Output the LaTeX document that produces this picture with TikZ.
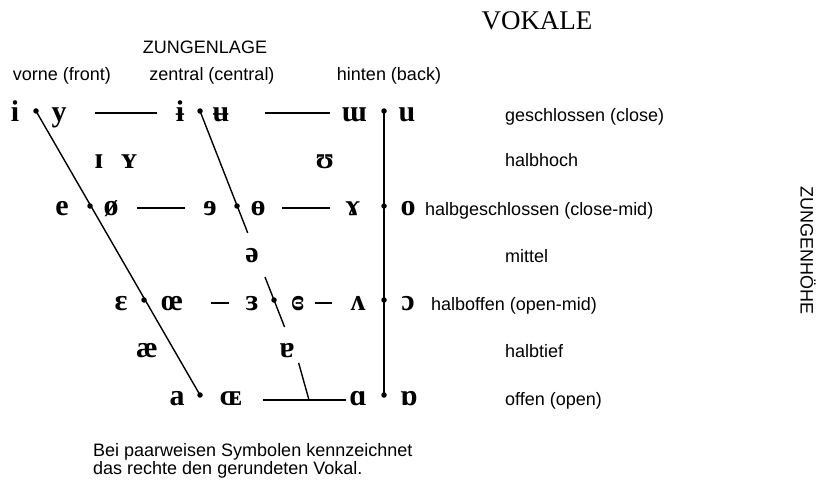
\documentclass[tikz,border=0pt]{standalone}
\usepackage{fontspec}
\setmainfont{Liberation Sans}
\newfontfamily\ipafont{Liberation Serif}
\newfontfamily\titlefont{Liberation Serif}
\usetikzlibrary{calc}
\begin{document}
\begin{tikzpicture}[x=1pt,y=-1pt,
  lab/.style={anchor=base west, inner sep=0pt, font=\fontsize{18}{16}\selectfont},
  head/.style={anchor=base, inner sep=0pt, font=\fontsize{18}{16}\selectfont},
  ipa/.style={anchor=base, inner sep=0pt, font=\ipafont\bfseries\fontsize{30}{30}\selectfont},
  vdot/.style={circle, fill, inner sep=0pt, minimum size=5.5pt},
  ln/.style={line width=1.4pt}]
\useasboundingbox (0,0) rectangle (819,484);

% titles
\node[anchor=base, inner sep=0pt, font=\titlefont\fontsize{27}{27}\selectfont] (title) at (537,30) {VOKALE};
\node[head] (zl) at (205,54) {ZUNGENLAGE};
\node[head] (hf) at (62,81) {vorne (front)};
\node[head] (hc) at (212,81) {zentral (central)};
\node[head] (hb) at (389,81) {hinten (back)};
\node[rotate=-90, inner sep=0pt, font=\fontsize{18}{16}\selectfont] (zh) at (808,251) {ZUNGENHÖHE};

% row 1
\node[ipa] (v11) at (15,122) {i};
\node[ipa] (v12) at (59,122) {y};
\node[ipa] (v13) at (180,122) {ɨ};
\node[ipa] (v14) at (221,122) {ʉ};
\node[ipa] (v15) at (354,122) {ɯ};
\node[ipa] (v16) at (407,122) {u};
\node[vdot] (f1) at (36,111) {};
\node[vdot] (c1) at (200,111) {};
\node[vdot] (b1) at (384,111) {};
\coordinate (h1a) at (95,113); \coordinate (h1b) at (157,113);
\coordinate (h1c) at (265,113); \coordinate (h1d) at (330,113);
\draw[ln] (h1a) -- (h1b);
\draw[ln] (h1c) -- (h1d);

% row 2
\node[ipa] (v21) at (99,168) {ɪ};
\node[ipa] (v22) at (129,168) {ʏ};
\node[ipa] (v23) at (325,168) {ʊ};

% row 3
\node[ipa] (v31) at (62,215) {e};
\node[ipa] (v32) at (111,215) {ø};
\node[ipa] (v33) at (210,215) {ɘ};
\node[ipa] (v34) at (258,215) {ɵ};
\node[ipa] (v35) at (353,215) {ɤ};
\node[ipa] (v36) at (408,215) {o};
\node[vdot] (f3) at (90,206) {};
\node[vdot] (c3) at (237,206) {};
\node[vdot] (b3) at (384,206) {};
\coordinate (h3a) at (137,208); \coordinate (h3b) at (185,208);
\coordinate (h3c) at (282,208); \coordinate (h3d) at (330,208);
\draw[ln] (h3a) -- (h3b);
\draw[ln] (h3c) -- (h3d);

% row 4
\node[ipa] (v41) at (252,262) {ə};

% row 5
\node[ipa] (v51) at (121,310) {ɛ};
\node[ipa] (v52) at (172,310) {œ};
\node[ipa] (v53) at (252,310) {ɜ};
\node[ipa] (v54) at (298,310) {ɞ};
\node[ipa] (v55) at (358,310) {ʌ};
\node[ipa] (v56) at (408,310) {ɔ};
\node[vdot] (f5) at (144,300) {};
\node[vdot] (c5) at (274,300) {};
\node[vdot] (b5) at (384,300) {};
\coordinate (h5a) at (211,303); \coordinate (h5b) at (229,303);
\coordinate (h5c) at (315,303); \coordinate (h5d) at (332,303);
\draw[ln] (h5a) -- (h5b);
\draw[ln] (h5c) -- (h5d);

% row 6
\node[ipa] (v61) at (147,357) {æ};
\node[ipa] (v62) at (287,357) {ɐ};

% row 7
\node[ipa] (v71) at (177,405) {a};
\node[ipa] (v72) at (231,405) {ɶ};
\node[ipa] (v73) at (358,405) {ɑ};
\node[ipa] (v74) at (409,405) {ɒ};
\node[vdot] (f7) at (200,395) {};
\node[vdot] (b7) at (384,395) {};
\coordinate (h7a) at (263,400); \coordinate (h7b) at (346,400);
\coordinate (jn) at (309,400);
\draw[ln] (h7a) -- (h7b);

% front and back lines
\draw[ln] (f1.center) -- (f7.center);
\draw[ln] (b1.center) -- (b7.center);
% central line, interrupted
\draw[ln] (c1.center) -- ($(c1)!0.645!(c5)$);
\draw[ln] ($(c1)!0.878!(c5)$) -- ($(c1)!1.143!(c5)$);
\draw[ln] ($(c1)!1.333!(c5)$) -- (jn);

% height labels
\node[lab] (l1) at (505,122) {geschlossen (close)};
\node[lab] (l2) at (505,167) {halbhoch};
\node[lab] (l3) at (425,215) {halbgeschlossen (close-mid)};
\node[lab] (l4) at (505,262) {mittel};
\node[lab] (l5) at (431,310) {halboffen (open-mid)};
\node[lab] (l6) at (505,357) {halbtief};
\node[lab] (l7) at (505,405) {offen (open)};

% note
\node[anchor=north west, inner sep=0pt, align=left, font=\fontsize{18}{16}\selectfont] (note) at (93,443) {Bei paarweisen Symbolen kennzeichnet\\das rechte den gerundeten Vokal.};
\end{tikzpicture}
\end{document}
